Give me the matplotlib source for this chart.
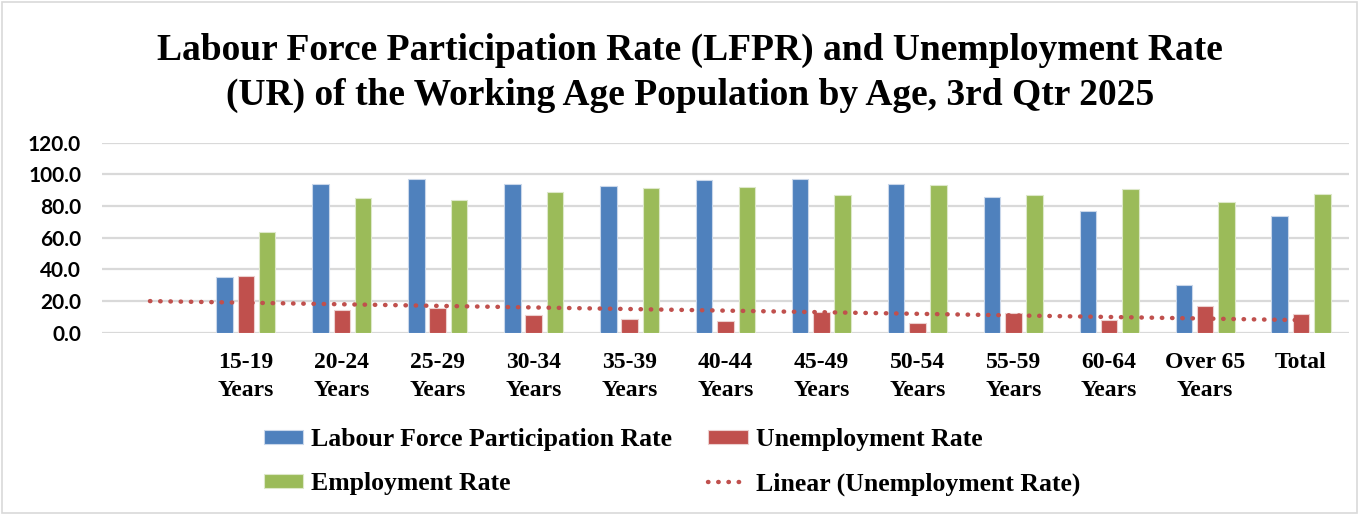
import numpy as np
import matplotlib
matplotlib.use("Agg")
import matplotlib.pyplot as plt
from matplotlib.patches import Rectangle

categories = ["", "15-19\nYears", "20-24\nYears", "25-29\nYears", "30-34\nYears",
              "35-39\nYears", "40-44\nYears", "45-49\nYears", "50-54\nYears",
              "55-59\nYears", "60-64\nYears", "Over 65\nYears", "Total"]
lfpr = [np.nan, 35.2, 93.7, 97.3, 93.7, 92.8, 96.4, 97.3, 94.1, 85.5, 77.1, 29.9, 73.5]
unemp = [np.nan, 36.0, 14.3, 15.4, 11.2, 8.4, 7.2, 13.3, 6.1, 12.4, 8.2, 16.8, 12.0]
emp = [np.nan, 63.4, 85.1, 84.0, 88.6, 91.2, 92.0, 87.2, 93.5, 86.9, 90.9, 82.5, 87.6]
yticks = [0, 20, 40, 60, 80, 100, 120]

title = ("Labour Force Participation Rate (LFPR) and Unemployment Rate\n"
         "(UR) of the Working Age Population by Age, 3rd Qtr 2025")

BLUE, RED, GREEN = "#4F81BD", "#C0504D", "#9BBB59"
SERIF = "Liberation Serif"

fig = plt.figure(figsize=(13.59, 5.15), dpi=100)
ax = fig.add_axes([102/1359, 1-332.7/515, (1349-102)/1359, 190/515])

x = np.arange(len(categories))
w = 0.172
off = 0.222
ax.bar(x - off, lfpr, w, color=BLUE, edgecolor="#c9d7ea", linewidth=0.8, label="Labour Force Participation Rate", zorder=3)
ax.bar(x, unemp, w, color=RED, edgecolor="#ecd0cf", linewidth=0.8, label="Unemployment Rate", zorder=3)
ax.bar(x + off, emp, w, color=GREEN, edgecolor="#dde8c9", linewidth=0.8, label="Employment Rate", zorder=3)

# linear trendline of unemployment rate (fit over available points, drawn across all categories)
u = np.array(unemp, dtype=float)
m = ~np.isnan(u)
coef = np.polyfit(x[m], u[m], 1)
ax.plot(x, np.polyval(coef, x), linestyle=(0, (0.1, 2.2)), dash_capstyle="round",
        color=RED, linewidth=3.2, label="Linear (Unemployment Rate)", zorder=4)

ax.set_xlim(-0.5, len(categories) - 0.5)
ax.set_ylim(0, 120)
ax.set_yticks(yticks)
ax.set_yticklabels([f"{v:.1f}" for v in yticks], fontfamily="Lato", fontweight="bold", fontsize=15)
ax.set_xticks(x)
ax.set_xticklabels(categories, fontfamily=SERIF, fontweight="bold", fontsize=17, linespacing=1.4)
ax.tick_params(axis="both", length=0)
ax.tick_params(axis="y", pad=15)
ax.tick_params(axis="x", pad=14)
ax.grid(axis="y", color="#d9d9d9", linewidth=1.6, zorder=0)
for s in ax.spines.values():
    s.set_visible(False)

fig.text(0.508, 1-73/515, title, ha="center", va="center", fontfamily=SERIF,
         fontweight="bold", fontsize=27, linespacing=1.38)

h, l = ax.get_legend_handles_labels()
# order for row-major display: LFPR, UR / ER, Linear
order = [1, 3, 2, 0]
hh = [h[i] for i in order]
ll = [l[i] for i in order]
leg = fig.legend(hh, ll, ncol=2, loc="center", bbox_to_anchor=(672/1359, 1-462/515),
                 frameon=False, prop={"family": SERIF, "weight": "bold", "size": 18.5},
                 handlelength=1.55, handleheight=0.47, handletextpad=0.31,
                 columnspacing=1.4, labelspacing=0.82)

fig.patches.append(Rectangle((2/1359, 2/515), 1-4/1359, 1-4/515, transform=fig.transFigure,
                             fill=False, edgecolor="#d9d9d9", linewidth=1.2))

fig.savefig("out.png", dpi=100)
